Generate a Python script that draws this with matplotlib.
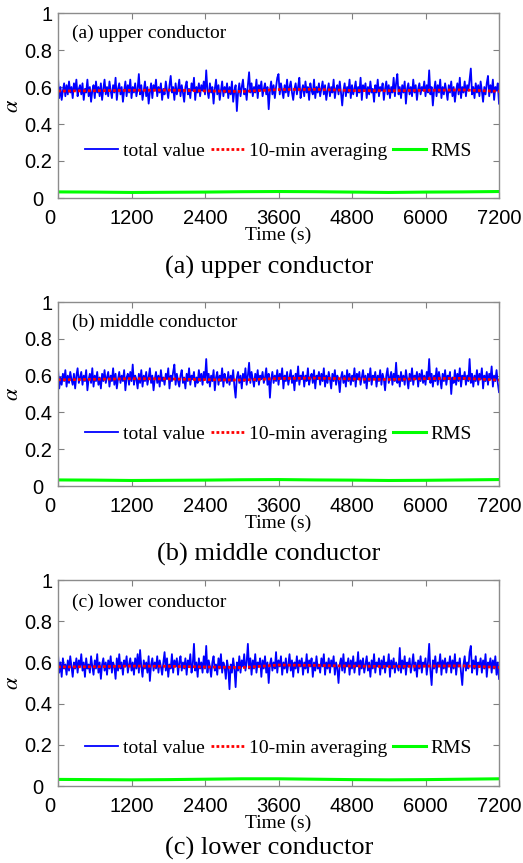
import numpy as np
import matplotlib
matplotlib.use('Agg')
import matplotlib.pyplot as plt
import matplotlib.transforms as mtransforms

plt.rcParams['mathtext.fontset'] = 'stix'

# values (alpha vs time, 20 s spacing, one row = 400 s)
alpha_upper = [
    0.65, 0.54, 0.60, 0.53, 0.58, 0.62, 0.55, 0.61, 0.56, 0.63, 0.57, 0.60, 0.54, 0.62, 0.58, 0.64, 0.55, 0.59, 0.61, 0.56,
    0.62, 0.53, 0.59, 0.57, 0.64, 0.55, 0.60, 0.52, 0.58, 0.61, 0.54, 0.63, 0.57, 0.60, 0.55, 0.62, 0.53, 0.59, 0.64, 0.56,
    0.60, 0.55, 0.63, 0.58, 0.54, 0.61, 0.57, 0.65, 0.53, 0.59, 0.62, 0.56, 0.60, 0.52, 0.58, 0.63, 0.55, 0.61, 0.57, 0.64,
    0.54, 0.60, 0.57, 0.62, 0.55, 0.59, 0.67, 0.56, 0.61, 0.53, 0.58, 0.63, 0.55, 0.60, 0.51, 0.57, 0.62, 0.54, 0.61, 0.58,
    0.64, 0.55, 0.60, 0.57, 0.62, 0.53, 0.59, 0.56, 0.63, 0.58, 0.54, 0.61, 0.66, 0.57, 0.60, 0.53, 0.62, 0.56, 0.59, 0.64,
    0.55, 0.61, 0.57, 0.52, 0.60, 0.63, 0.56, 0.59, 0.54, 0.62, 0.58, 0.65, 0.53, 0.60, 0.57, 0.62, 0.55, 0.61, 0.58, 0.63,
    0.56, 0.69, 0.58, 0.54, 0.62, 0.57, 0.60, 0.51, 0.59, 0.64, 0.56, 0.61, 0.53, 0.58, 0.63, 0.55, 0.60, 0.57, 0.62, 0.54,
    0.60, 0.56, 0.63, 0.52, 0.58, 0.61, 0.47, 0.57, 0.62, 0.55, 0.60, 0.64, 0.56, 0.59, 0.53, 0.61, 0.68, 0.57, 0.62, 0.55,
    0.60, 0.57, 0.64, 0.54, 0.61, 0.58, 0.63, 0.55, 0.59, 0.62, 0.56, 0.60, 0.48, 0.58, 0.63, 0.56, 0.61, 0.54, 0.60, 0.65,
    0.67, 0.56, 0.62, 0.58, 0.54, 0.61, 0.57, 0.64, 0.55, 0.60, 0.63, 0.57, 0.53, 0.59, 0.62, 0.56, 0.60, 0.65, 0.54, 0.58,
    0.61, 0.55, 0.63, 0.57, 0.60, 0.53, 0.62, 0.58, 0.56, 0.64, 0.54, 0.60, 0.57, 0.62, 0.55, 0.59, 0.63, 0.56, 0.61, 0.53,
    0.58, 0.62, 0.55, 0.60, 0.57, 0.64, 0.54, 0.59, 0.61, 0.56, 0.63, 0.57, 0.50, 0.58, 0.62, 0.55, 0.60, 0.57, 0.64, 0.54,
    0.61, 0.56, 0.59, 0.63, 0.55, 0.60, 0.57, 0.65, 0.53, 0.61, 0.58, 0.62, 0.54, 0.60, 0.56, 0.63, 0.57, 0.59, 0.52, 0.61,
    0.57, 0.64, 0.55, 0.60, 0.58, 0.62, 0.53, 0.59, 0.63, 0.56, 0.61, 0.54, 0.60, 0.57, 0.65, 0.55, 0.62, 0.67, 0.56, 0.60,
    0.54, 0.61, 0.57, 0.63, 0.51, 0.59, 0.62, 0.56, 0.60, 0.55, 0.64, 0.57, 0.61, 0.53, 0.59, 0.62, 0.56, 0.60, 0.58, 0.63,
    0.55, 0.61, 0.57, 0.69, 0.56, 0.60, 0.50, 0.58, 0.63, 0.55, 0.61, 0.57, 0.64, 0.54, 0.60, 0.56, 0.62, 0.58, 0.53, 0.61,
    0.57, 0.63, 0.55, 0.60, 0.52, 0.58, 0.62, 0.56, 0.65, 0.54, 0.60, 0.57, 0.63, 0.55, 0.61, 0.58, 0.64, 0.70, 0.56, 0.60,
    0.54, 0.62, 0.57, 0.61, 0.55, 0.63, 0.58, 0.52, 0.60, 0.56, 0.62, 0.66, 0.55, 0.61, 0.57, 0.64, 0.53, 0.60, 0.58, 0.62,
    0.51,
]
alpha_middle = [
    0.64, 0.53, 0.59, 0.55, 0.61, 0.57, 0.63, 0.54, 0.60, 0.56, 0.62, 0.58, 0.55, 0.61, 0.53, 0.60, 0.64, 0.56, 0.59, 0.62,
    0.55, 0.60, 0.57, 0.63, 0.52, 0.58, 0.61, 0.56, 0.64, 0.54, 0.60, 0.57, 0.62, 0.55, 0.59, 0.53, 0.61, 0.57, 0.63, 0.56,
    0.59, 0.62, 0.54, 0.60, 0.57, 0.64, 0.55, 0.61, 0.53, 0.58, 0.62, 0.56, 0.60, 0.57, 0.63, 0.52, 0.59, 0.61, 0.55, 0.62,
    0.57, 0.66, 0.55, 0.60, 0.58, 0.53, 0.61, 0.56, 0.63, 0.54, 0.60, 0.57, 0.62, 0.55, 0.59, 0.64, 0.56, 0.60, 0.52, 0.58,
    0.62, 0.56, 0.60, 0.54, 0.63, 0.57, 0.59, 0.55, 0.61, 0.58, 0.64, 0.53, 0.60, 0.57, 0.62, 0.66, 0.55, 0.61, 0.57, 0.54,
    0.60, 0.63, 0.56, 0.59, 0.53, 0.61, 0.57, 0.64, 0.55, 0.60, 0.58, 0.62, 0.54, 0.59, 0.56, 0.63, 0.57, 0.61, 0.55, 0.62,
    0.58, 0.69, 0.56, 0.61, 0.54, 0.60, 0.57, 0.63, 0.52, 0.59, 0.62, 0.55, 0.60, 0.57, 0.64, 0.54, 0.61, 0.58, 0.56, 0.62,
    0.55, 0.60, 0.57, 0.63, 0.54, 0.48, 0.59, 0.62, 0.56, 0.60, 0.53, 0.61, 0.57, 0.64, 0.55, 0.60, 0.67, 0.56, 0.62, 0.58,
    0.54, 0.61, 0.57, 0.63, 0.55, 0.60, 0.58, 0.62, 0.56, 0.59, 0.64, 0.55, 0.61, 0.48, 0.58, 0.62, 0.56, 0.60, 0.57, 0.63,
    0.55, 0.61, 0.58, 0.64, 0.53, 0.60, 0.57, 0.62, 0.55, 0.59, 0.63, 0.56, 0.60, 0.52, 0.61, 0.57, 0.65, 0.55, 0.60, 0.58,
    0.62, 0.54, 0.60, 0.57, 0.64, 0.55, 0.59, 0.61, 0.56, 0.63, 0.53, 0.60, 0.58, 0.62, 0.55, 0.61, 0.57, 0.64, 0.54, 0.60,
    0.56, 0.62, 0.58, 0.53, 0.61, 0.57, 0.63, 0.55, 0.60, 0.58, 0.51, 0.59, 0.62, 0.56, 0.60, 0.54, 0.63, 0.57, 0.61, 0.55,
    0.60, 0.57, 0.64, 0.54, 0.61, 0.58, 0.62, 0.55, 0.59, 0.63, 0.56, 0.60, 0.53, 0.61, 0.57, 0.64, 0.55, 0.60, 0.58, 0.62,
    0.54, 0.60, 0.57, 0.63, 0.55, 0.61, 0.58, 0.52, 0.60, 0.64, 0.56, 0.59, 0.62, 0.55, 0.61, 0.57, 0.67, 0.56, 0.60, 0.54,
    0.62, 0.57, 0.60, 0.55, 0.63, 0.58, 0.53, 0.61, 0.57, 0.64, 0.55, 0.60, 0.58, 0.62, 0.54, 0.61, 0.57, 0.63, 0.56, 0.60,
    0.55, 0.62, 0.58, 0.69, 0.56, 0.61, 0.54, 0.60, 0.57, 0.64, 0.55, 0.62, 0.58, 0.53, 0.61, 0.57, 0.63, 0.55, 0.60, 0.58,
    0.62, 0.50, 0.59, 0.56, 0.63, 0.55, 0.61, 0.57, 0.64, 0.54, 0.60, 0.58, 0.62, 0.55, 0.60, 0.57, 0.69, 0.56, 0.61, 0.54,
    0.60, 0.57, 0.63, 0.55, 0.61, 0.58, 0.64, 0.53, 0.60, 0.57, 0.62, 0.55, 0.61, 0.58, 0.65, 0.54, 0.60, 0.57, 0.63, 0.56,
    0.51,
]
alpha_lower = [
    0.64, 0.55, 0.60, 0.53, 0.62, 0.57, 0.59, 0.54, 0.61, 0.56, 0.63, 0.58, 0.53, 0.60, 0.57, 0.62, 0.55, 0.61, 0.58, 0.64,
    0.56, 0.60, 0.53, 0.62, 0.57, 0.59, 0.55, 0.63, 0.58, 0.54, 0.61, 0.57, 0.64, 0.55, 0.60, 0.52, 0.59, 0.62, 0.56, 0.60,
    0.54, 0.61, 0.57, 0.63, 0.55, 0.60, 0.58, 0.52, 0.62, 0.56, 0.64, 0.57, 0.60, 0.54, 0.61, 0.58, 0.63, 0.55, 0.59, 0.62,
    0.56, 0.60, 0.54, 0.62, 0.57, 0.64, 0.55, 0.66, 0.58, 0.53, 0.61, 0.57, 0.60, 0.55, 0.63, 0.51, 0.59, 0.62, 0.56, 0.60,
    0.57, 0.63, 0.55, 0.61, 0.58, 0.54, 0.60, 0.65, 0.56, 0.62, 0.53, 0.59, 0.57, 0.64, 0.55, 0.61, 0.58, 0.62, 0.54, 0.60,
    0.63, 0.56, 0.60, 0.57, 0.62, 0.54, 0.61, 0.58, 0.64, 0.55, 0.59, 0.69, 0.56, 0.60, 0.53, 0.62, 0.57, 0.60, 0.55, 0.63,
    0.57, 0.68, 0.55, 0.61, 0.58, 0.53, 0.60, 0.63, 0.56, 0.59, 0.54, 0.62, 0.57, 0.64, 0.55, 0.60, 0.58, 0.52, 0.61, 0.57,
    0.47, 0.59, 0.55, 0.62, 0.57, 0.48, 0.60, 0.56, 0.63, 0.55, 0.61, 0.58, 0.64, 0.56, 0.60, 0.69, 0.57, 0.62, 0.54, 0.61,
    0.57, 0.64, 0.55, 0.60, 0.58, 0.62, 0.53, 0.61, 0.57, 0.63, 0.55, 0.60, 0.50, 0.59, 0.62, 0.56, 0.60, 0.57, 0.65, 0.55,
    0.61, 0.58, 0.63, 0.54, 0.60, 0.57, 0.62, 0.55, 0.59, 0.64, 0.56, 0.61, 0.53, 0.60, 0.57, 0.63, 0.55, 0.61, 0.58, 0.62,
    0.54, 0.60, 0.57, 0.64, 0.55, 0.61, 0.58, 0.62, 0.53, 0.60, 0.56, 0.63, 0.57, 0.59, 0.55, 0.62, 0.58, 0.64, 0.54, 0.60,
    0.57, 0.62, 0.55, 0.61, 0.58, 0.63, 0.54, 0.60, 0.57, 0.50, 0.59, 0.62, 0.56, 0.64, 0.55, 0.60, 0.58, 0.62, 0.54, 0.61,
    0.57, 0.63, 0.55, 0.60, 0.58, 0.65, 0.54, 0.61, 0.57, 0.62, 0.55, 0.59, 0.63, 0.56, 0.60, 0.53, 0.61, 0.57, 0.64, 0.55,
    0.60, 0.58, 0.62, 0.54, 0.61, 0.57, 0.63, 0.55, 0.60, 0.58, 0.64, 0.53, 0.61, 0.57, 0.62, 0.55, 0.60, 0.58, 0.56, 0.67,
    0.55, 0.61, 0.57, 0.63, 0.54, 0.60, 0.58, 0.62, 0.55, 0.59, 0.64, 0.56, 0.60, 0.53, 0.61, 0.57, 0.63, 0.55, 0.60, 0.58,
    0.62, 0.54, 0.60, 0.69, 0.56, 0.49, 0.61, 0.57, 0.63, 0.55, 0.60, 0.58, 0.64, 0.54, 0.61, 0.57, 0.62, 0.55, 0.60, 0.58,
    0.63, 0.55, 0.61, 0.57, 0.64, 0.54, 0.60, 0.58, 0.62, 0.55, 0.49, 0.59, 0.63, 0.56, 0.60, 0.57, 0.65, 0.68, 0.55, 0.61,
    0.57, 0.63, 0.54, 0.60, 0.58, 0.62, 0.55, 0.61, 0.57, 0.64, 0.53, 0.60, 0.58, 0.62, 0.55, 0.61, 0.57, 0.63, 0.54, 0.60,
    0.52,
]

# 10-min averages and RMS, every 600 s
avg_upper = [0.578, 0.580, 0.582, 0.583, 0.579, 0.576, 0.586, 0.587, 0.581, 0.580, 0.582, 0.584, 0.577]
avg_middle = [0.577, 0.580, 0.583, 0.582, 0.578, 0.576, 0.584, 0.586, 0.582, 0.579, 0.583, 0.585, 0.576]
avg_lower = [0.578, 0.579, 0.582, 0.581, 0.578, 0.575, 0.587, 0.585, 0.582, 0.580, 0.582, 0.583, 0.576]
rms_upper = [0.033, 0.032, 0.030, 0.031, 0.032, 0.034, 0.035, 0.034, 0.032, 0.030, 0.032, 0.033, 0.035]
rms_middle = [0.033, 0.032, 0.030, 0.031, 0.032, 0.034, 0.035, 0.033, 0.032, 0.030, 0.031, 0.033, 0.035]
rms_lower = [0.032, 0.031, 0.030, 0.031, 0.033, 0.035, 0.035, 0.033, 0.031, 0.030, 0.031, 0.033, 0.035]

panels = [
    ('(a) upper conductor', alpha_upper, avg_upper, rms_upper),
    ('(b) middle conductor', alpha_middle, avg_middle, rms_middle),
    ('(c) lower conductor', alpha_lower, avg_lower, rms_lower),
]

xticks = [0, 1200, 2400, 3600, 4800, 6000, 7200]
yticks = [0, 0.2, 0.4, 0.6, 0.8, 1]
ytick_labels = ['0', '0.2', '0.4', '0.6', '0.8', '1']

W, H = 523, 863
# axes boxes in pixels: (top, bottom)
boxes = [(13, 198), (302, 486), (580, 786)]
caption_y = [267, 554, 848]
legend_y = [0.254, 0.283, 0.184]

serif = 'Liberation Serif'
sans = 'Liberation Sans'

fig = plt.figure(figsize=(W / 100, H / 100), dpi=100)


def nudge(label, dx, dy):
    # shift a tick label by some pixels
    label.set_transform(label.get_transform() +
                        mtransforms.ScaledTranslation(dx / 100, dy / 100, fig.dpi_scale_trans))


for k, (name, total, avg, rms) in enumerate(panels):
    top, bot = boxes[k]
    ax = fig.add_axes([58 / W, 1 - bot / H, (499 - 58) / W, (bot - top) / H])

    t_total = np.linspace(0, 7200, len(total))
    t_avg = np.linspace(0, 7200, len(avg))

    ax.plot(t_total, total, color='#0000ff', lw=1.3, label='total value')
    ax.plot(t_avg, avg, color='#ff0000', lw=2.0, ls=(0, (1, 0.8)), label='10-min averaging')
    ax.plot(t_avg, rms, color='#00ff00', lw=2.2, label='RMS')

    ax.set_xlim(0, 7200)
    ax.set_ylim(0, 1)
    ax.set_xticks(xticks)
    ax.set_xticklabels([str(x) for x in xticks], fontfamily=sans, fontsize=14.5)
    ax.set_yticks(yticks)
    ax.set_yticklabels(ytick_labels, fontfamily=sans, fontsize=14.5)
    ax.tick_params(direction='in', top=True, right=True, length=4, width=0.8,
                   color='#808080')
    ax.tick_params(axis='x', pad=8)
    ax.tick_params(axis='y', pad=4)
    for s in ax.spines.values():
        s.set_color('#8c8c8c')
        s.set_linewidth(1.0)

    # the two "0" labels sit apart in the corner, as in the original
    nudge(ax.get_xticklabels()[0], -8, 0)
    nudge(ax.get_yticklabels()[0], -9, 0)

    ax.set_xlabel('Time (s)', fontfamily=serif, fontsize=14, labelpad=-1)
    ax.set_ylabel(r'$\alpha$', fontsize=16, labelpad=2)

    ax.text(0.032, 0.89, name, transform=ax.transAxes, fontfamily=serif,
            fontsize=14, va='center', ha='left')

    ax.legend(loc='center', bbox_to_anchor=(0.5, legend_y[k]), ncol=3,
              frameon=False, prop={'family': serif, 'size': 14},
              handlelength=1.7, handletextpad=0.25, columnspacing=0.3,
              borderaxespad=0)

    fig.text(269 / W, 1 - caption_y[k] / H, name, fontfamily=serif,
             fontsize=19, ha='center', va='center')

fig.savefig('out.png', dpi=100)
